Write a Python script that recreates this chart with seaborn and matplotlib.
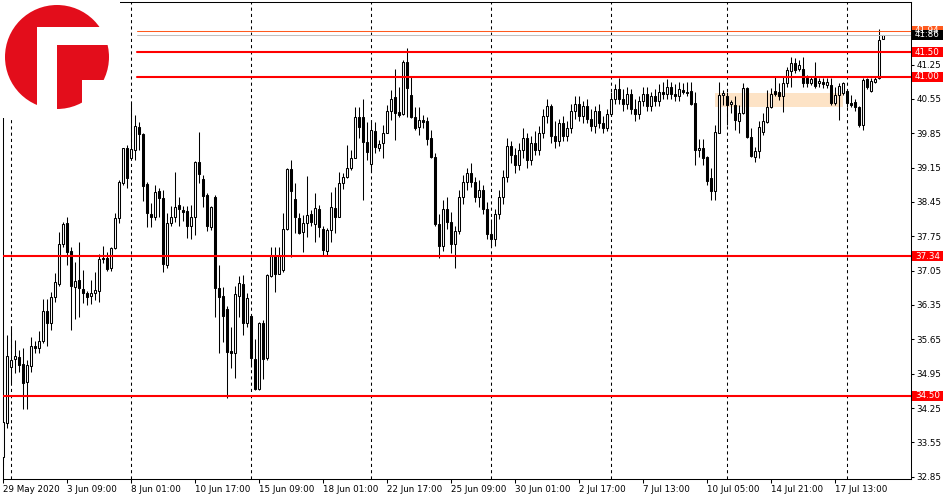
import numpy as np
import pandas as pd
import matplotlib
matplotlib.use("Agg")
import matplotlib.pyplot as plt
import matplotlib.transforms as mtransforms
from matplotlib.patches import Rectangle, Circle, Polygon
import seaborn as sns

# H4 candles (oldest first)
opens = [33.26, 33.95, 35.09, 35.24, 35.28, 35.14, 34.79, 35.11, 35.52, 35.47,
         35.62, 36.23, 35.98, 36.52, 36.78, 37.59, 38.03, 37.46, 36.72, 36.86,
         36.68, 36.60, 36.54, 36.60, 36.64, 37.31, 37.31, 37.10, 37.52, 38.12,
         38.83, 39.54, 39.34, 39.51, 39.98, 39.84, 38.82, 38.20, 38.15, 38.68,
         38.54, 37.16, 38.02, 38.14, 38.38, 38.29, 38.27, 37.96, 38.15, 39.27,
         38.92, 38.59, 37.93, 38.56, 36.70, 36.53, 36.27, 35.41, 35.37, 36.54,
         36.78, 35.98, 36.13, 35.24, 34.63, 35.98, 35.26, 36.95, 37.35, 36.99,
         37.06, 37.89, 39.12, 38.52, 38.12, 37.83, 38.02, 38.20, 38.01, 38.31,
         37.90, 37.46, 37.88, 38.32, 38.14, 38.84, 38.95, 39.14, 39.34, 40.19,
         40.19, 39.68, 39.22, 39.90, 39.56, 39.66, 39.85, 40.30, 40.58, 40.29,
         40.24, 41.31, 40.63, 40.18, 39.97, 40.12, 40.10, 39.75, 39.36, 38.00,
         37.55, 38.30, 38.05, 37.60, 37.85, 38.55, 38.85, 39.05, 38.85, 38.55,
         38.70, 38.30, 37.80, 37.70, 38.20, 38.55, 38.95, 39.60, 39.40, 39.20,
         39.50, 39.75, 39.30, 39.65, 39.50, 39.85, 40.20, 40.40, 39.80, 39.70,
         40.05, 39.80, 39.95, 40.30, 40.45, 40.20, 40.40, 40.15, 40.00, 40.30,
         40.05, 39.95, 40.25, 40.55, 40.75, 40.55, 40.45, 40.65, 40.35, 40.25,
         40.50, 40.65, 40.40, 40.60, 40.50, 40.70, 40.65, 40.80, 40.65, 40.60,
         40.74, 40.70, 40.72, 40.46, 39.50, 39.54, 39.37, 38.93, 38.68, 39.86,
         40.63, 40.60, 40.44, 40.43, 40.11, 40.26, 40.77, 39.77, 39.37, 39.48,
         39.88, 40.09, 40.39, 40.72, 40.70, 40.61, 40.87, 41.11, 41.28, 41.17,
         41.17, 40.97, 40.88, 40.97, 40.88, 40.90, 40.83, 40.83, 40.46, 40.63,
         40.67, 40.72, 40.47, 40.49, 40.39, 40.02, 40.95, 40.72, 40.90, 40.97,
         41.77]
highs = [33.97, 35.74, 35.92, 35.64, 35.43, 35.47, 35.23, 35.70, 35.62, 35.81,
         36.47, 36.47, 36.62, 37.01, 37.83, 38.05, 38.15, 37.54, 37.22, 37.63,
         37.06, 36.64, 36.86, 37.02, 37.38, 37.56, 37.44, 37.54, 38.22, 38.90,
         39.56, 39.61, 40.46, 40.22, 40.09, 39.85, 38.86, 38.42, 38.80, 38.73,
         38.69, 38.23, 38.37, 39.07, 38.56, 38.37, 38.37, 38.39, 39.28, 39.88,
         39.00, 38.63, 38.37, 38.59, 37.17, 36.72, 36.32, 35.91, 36.73, 36.94,
         36.96, 36.59, 36.15, 35.65, 36.01, 36.05, 36.99, 37.53, 37.54, 37.53,
         38.22, 39.14, 39.31, 38.83, 38.22, 38.19, 38.97, 38.29, 38.63, 38.39,
         37.95, 37.91, 38.66, 38.76, 39.07, 39.05, 39.61, 39.51, 40.39, 40.39,
         40.54, 40.09, 40.12, 40.09, 39.71, 40.02, 40.43, 40.73, 41.17, 40.80,
         41.34, 41.58, 41.00, 40.39, 40.39, 40.22, 40.19, 39.92, 39.45, 38.20,
         38.50, 38.55, 38.25, 37.95, 38.70, 39.00, 39.15, 39.25, 38.95, 38.90,
         38.80, 38.45, 38.10, 38.30, 38.70, 39.10, 39.75, 39.70, 39.55, 39.65,
         39.95, 39.85, 39.80, 39.90, 40.00, 40.35, 40.55, 40.45, 40.10, 40.15,
         40.20, 40.10, 40.45, 40.60, 40.60, 40.50, 40.55, 40.35, 40.40, 40.45,
         40.20, 40.35, 40.70, 40.85, 40.98, 40.75, 40.80, 40.75, 40.55, 40.60,
         40.80, 40.80, 40.70, 40.75, 40.85, 40.90, 40.95, 40.90, 40.85, 40.90,
         40.87, 40.90, 40.90, 40.70, 39.73, 39.73, 39.39, 39.14, 40.02, 40.89,
         40.73, 40.70, 40.53, 40.61, 40.43, 40.88, 40.80, 39.95, 39.58, 40.11,
         40.26, 40.74, 40.77, 41.00, 40.87, 41.00, 41.21, 41.41, 41.38, 41.34,
         41.41, 41.04, 41.00, 41.31, 40.97, 40.97, 40.97, 40.97, 40.80, 40.87,
         40.90, 40.74, 40.63, 40.54, 40.40, 40.97, 40.97, 40.97, 41.00, 41.97,
         41.86]
lows = [33.06, 33.84, 34.75, 34.96, 34.99, 34.24, 34.24, 34.99, 35.37, 35.38,
        35.57, 35.52, 35.84, 36.42, 36.74, 37.54, 37.17, 35.84, 36.07, 36.11,
        36.40, 36.34, 36.38, 36.45, 36.41, 37.20, 37.05, 37.05, 37.49, 38.03,
        38.80, 38.73, 39.30, 39.31, 39.51, 38.46, 37.93, 37.93, 38.08, 38.15,
        37.03, 37.10, 37.96, 38.05, 37.96, 38.07, 37.72, 37.69, 37.78, 38.84,
        38.35, 37.86, 37.88, 36.11, 35.37, 35.60, 34.45, 35.06, 34.86, 36.11,
        35.74, 35.91, 35.09, 34.62, 34.62, 34.84, 35.23, 36.93, 36.62, 36.98,
        37.03, 37.88, 37.32, 37.81, 37.80, 37.44, 37.74, 37.95, 37.64, 37.74,
        37.37, 37.37, 37.64, 37.81, 38.14, 38.71, 38.93, 39.10, 39.34, 39.75,
        38.49, 39.31, 39.07, 39.44, 39.48, 39.34, 39.85, 40.12, 39.71, 40.19,
        40.22, 40.19, 40.16, 39.92, 39.81, 39.95, 39.61, 39.34, 37.95, 37.30,
        37.45, 37.90, 37.40, 37.10, 37.80, 38.40, 38.70, 38.75, 38.45, 38.35,
        38.20, 37.70, 37.55, 37.55, 38.10, 38.40, 38.85, 39.25, 39.05, 39.10,
        39.35, 39.15, 39.20, 39.40, 39.40, 39.75, 40.05, 39.65, 39.55, 39.60,
        39.70, 39.70, 39.85, 40.15, 40.10, 40.05, 40.05, 39.90, 39.85, 39.95,
        39.85, 39.90, 40.20, 40.45, 40.45, 40.30, 40.35, 40.25, 40.10, 40.15,
        40.40, 40.30, 40.30, 40.40, 40.40, 40.55, 40.55, 40.55, 40.50, 40.50,
        40.66, 40.60, 40.43, 39.20, 39.36, 39.20, 38.80, 38.49, 38.49, 39.85,
        40.43, 40.02, 40.26, 39.92, 39.85, 40.24, 39.75, 39.37, 39.27, 39.34,
        39.81, 40.05, 40.36, 40.60, 40.53, 40.29, 40.80, 40.80, 41.07, 41.11,
        40.80, 40.80, 40.83, 40.77, 40.80, 40.77, 40.77, 40.43, 40.43, 40.12,
        40.63, 40.39, 40.39, 40.31, 39.97, 39.92, 40.75, 40.70, 40.88, 40.95,
        41.77]
closes = [33.97, 35.30, 35.23, 35.30, 35.13, 34.77, 35.13, 35.52, 35.47, 35.62,
          36.23, 35.98, 36.51, 36.81, 37.59, 38.01, 37.44, 36.74, 36.84, 36.70,
          36.60, 36.52, 36.60, 36.66, 37.28, 37.28, 37.08, 37.52, 38.12, 38.85,
          39.54, 38.93, 39.52, 40.00, 39.83, 38.78, 38.22, 38.14, 38.65, 38.54,
          37.18, 38.03, 38.14, 38.34, 38.30, 38.25, 37.95, 38.14, 39.27, 39.02,
          38.58, 37.95, 38.35, 36.69, 36.52, 36.13, 35.40, 35.37, 36.57, 36.79,
          35.98, 36.49, 35.26, 34.63, 35.98, 35.24, 36.96, 37.35, 36.99, 37.35,
          37.89, 39.12, 38.67, 38.15, 37.81, 38.02, 38.18, 38.04, 38.32, 37.93,
          37.47, 37.88, 38.35, 38.14, 38.83, 38.96, 39.14, 39.34, 40.19, 39.97,
          39.68, 39.46, 39.92, 39.58, 39.64, 39.85, 40.30, 40.54, 40.26, 40.22,
          41.31, 40.77, 40.18, 39.95, 40.12, 40.09, 39.73, 39.36, 38.00, 37.55,
          38.30, 38.05, 37.60, 37.85, 38.55, 38.85, 39.05, 38.85, 38.55, 38.70,
          38.30, 37.80, 37.70, 38.20, 38.55, 38.95, 39.60, 39.40, 39.20, 39.50,
          39.75, 39.30, 39.65, 39.50, 39.85, 40.20, 40.40, 39.80, 39.70, 40.05,
          39.80, 39.95, 40.30, 40.45, 40.20, 40.40, 40.15, 40.00, 40.30, 40.05,
          39.95, 40.25, 40.55, 40.75, 40.55, 40.45, 40.65, 40.35, 40.25, 40.50,
          40.65, 40.40, 40.60, 40.50, 40.70, 40.65, 40.80, 40.65, 40.60, 40.75,
          40.70, 40.68, 40.45, 39.51, 39.55, 39.34, 38.88, 38.68, 39.88, 40.63,
          40.68, 40.43, 40.48, 40.12, 40.26, 40.77, 39.77, 39.39, 39.49, 39.97,
          40.10, 40.39, 40.65, 40.66, 40.60, 40.87, 41.14, 41.29, 41.14, 41.24,
          40.87, 40.87, 40.95, 40.81, 40.92, 40.85, 40.90, 40.46, 40.63, 40.81,
          40.87, 40.46, 40.43, 40.38, 40.02, 40.94, 40.79, 40.92, 40.96, 41.75,
          41.86]

time_tick_pos = [0, 16, 32, 48, 64, 80, 96, 112, 128, 144, 160, 176, 192, 208]
time_tick_labels = ["29 May 2020", "3 Jun 09:00", "8 Jun 01:00", "10 Jun 17:00",
                    "15 Jun 09:00", "18 Jun 01:00", "22 Jun 17:00", "25 Jun 09:00",
                    "30 Jun 01:00", "2 Jul 17:00", "7 Jul 13:00", "10 Jul 05:00",
                    "14 Jul 21:00", "17 Jul 13:00"]
week_separators = [2, 32, 62, 92, 122, 152, 181, 211]
price_ticks = [32.85, 33.55, 34.25, 34.95, 35.65, 36.35, 37.05, 37.75,
               38.45, 39.15, 39.85, 40.55, 41.25]
levels = [41.50, 41.00, 37.34, 34.50]
level_starts = [0.1476, 0.1476, 0.0, 0.0]
bid_price = 41.86
ask_price = 41.94
zone_x = [177.9, 209.8]
zone_y = [40.39, 40.68]

sns.set_theme(style="white")
plt.rcParams["font.family"] = ["DejaVu Sans"]

df = pd.DataFrame({"open": opens, "high": highs, "low": lows, "close": closes})
df["idx"] = np.arange(len(df))
df["bull"] = df["close"] >= df["open"]
df["body_lo"] = df[["open", "close"]].min(axis=1)
df["body_h"] = (df["close"] - df["open"]).abs()

fig = plt.figure(figsize=(9.5, 5), dpi=100)
ax = fig.add_axes([3 / 950, 21 / 500, 908 / 950, 477 / 500])
ax.set_facecolor("white")

# supply/demand zone
ax.add_patch(Rectangle((zone_x[0], zone_y[0]), zone_x[1] - zone_x[0],
                       zone_y[1] - zone_y[0], fc="#FDE3C6", ec="none", zorder=1))

# weekly separators
for s in week_separators:
    ax.axvline(s, color="black", lw=0.75, ls=(0, (3, 3)), zorder=2)

# candles
ax.vlines(df["idx"], df["low"], df["high"], color="black", lw=0.75, zorder=3)
ax.bar(df["idx"], df["body_h"], bottom=df["body_lo"], width=0.55,
       color=np.where(df["bull"], "white", "black"), edgecolor="black",
       linewidth=0.75, zorder=4)

# horizontal levels
for lv, st in zip(levels, level_starts):
    ax.axhline(lv, xmin=st, color="#FF0000", lw=1.5, zorder=5)
ax.axhline(ask_price, xmin=0.1476, color="#FF5A1E", lw=0.75, zorder=5)
ax.axhline(bid_price, xmin=0.1476, color="#C0C0C0", lw=0.75, zorder=5)

ax.set_xlim(-0.083, 226.92)
ax.set_ylim(32.803, 42.526)

# axes / ticks
for sp in ax.spines.values():
    sp.set_visible(True)
    sp.set_color("black")
    sp.set_linewidth(0.75)
ax.yaxis.tick_right()
ax.set_yticks(price_ticks)
ax.set_yticklabels([f"{p:.2f}" for p in price_ticks])
ax.set_xticks(time_tick_pos)
ax.set_xticklabels(time_tick_labels, ha="left")
ax.tick_params(axis="y", direction="out", length=2.5, width=0.75, pad=1.5,
               labelsize=6.3, colors="black", left=False, right=True)
ax.tick_params(axis="x", direction="out", length=3, width=0.75, pad=1.5,
               labelsize=6.3, colors="black", bottom=True)
ax.grid(False)

# price labels on the right scale
trans = mtransforms.blended_transform_factory(ax.transAxes, ax.transData)
box_w = 31 / 908
box_h = 10 / 49.06


def price_tag(price, fc, label):
    ax.add_patch(Rectangle((1.001, price - box_h / 2), box_w, box_h,
                           transform=trans, fc=fc, ec="none", clip_on=False, zorder=6))
    ax.text(1.001 + box_w / 2, price, label, transform=trans, color="white",
            fontsize=6.3, ha="center", va="center", clip_on=False, zorder=7)


for lv in levels:
    price_tag(lv, "#FF0000", f"{lv:.2f}")
price_tag(ask_price, "#FF5A1E", f"{ask_price:.2f}")
price_tag(bid_price, "black", f"{bid_price:.2f}")

# logo
lax = fig.add_axes([0, 1 - 118 / 500, 120 / 950, 118 / 500])
lax.set_xlim(0, 120)
lax.set_ylim(118, 0)
lax.axis("off")
lax.add_patch(Rectangle((0, 0), 120, 118, fc="white", ec="none"))
lax.add_patch(Circle((57, 57), 52, fc="#E30D1B", ec="none"))
lax.add_patch(Polygon([(37, 27), (115, 27), (115, 45), (57, 45), (57, 115), (37, 115)],
                      fc="white", ec="none"))
lax.add_patch(Rectangle((82, 80), 35, 35, fc="white", ec="none"))

fig.savefig("out.png", dpi=100)
